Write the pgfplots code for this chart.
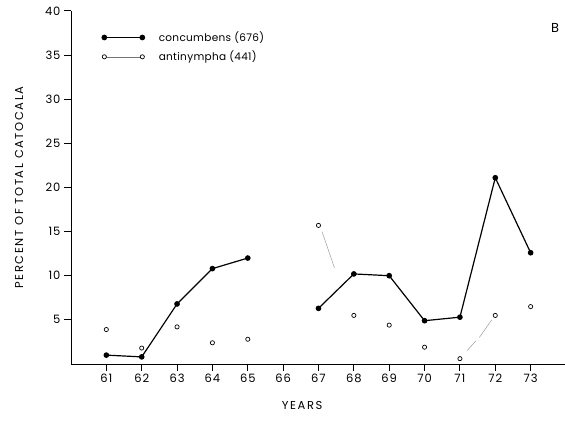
\documentclass[border=0pt]{standalone}
\usepackage{fontspec}
\setmainfont{Poppins}
\newfontfamily\spaced[LetterSpace=14]{Poppins}
\newfontfamily\legfont[LetterSpace=8]{Poppins}
\newfontfamily\keyfont[LetterSpace=3]{Poppins}
\usepackage{pgfplots}
\pgfplotsset{compat=1.18}

\begin{document}
\begin{tikzpicture}
\begin{axis}[
  scale only axis,
  width=495pt, height=353pt,
  xmin=60, xmax=74, ymin=0, ymax=40,
  axis lines=left,
  axis line style={line width=0.9pt, -},
  xtick={61,62,...,73}, ytick={5,10,...,40},
  major tick length=7pt,
  tick align=outside,
  major tick style={black, line width=0.9pt},
  /pgf/number format/assume math mode=true,
  /pgf/number format/set thousands separator={},
  tick label style={font=\fontsize{11.5}{13}\selectfont\legfont},
  xlabel={\spaced YEARS},
  ylabel={\spaced PERCENT OF TOTAL CATOCALA},
  label style={font=\fontsize{11.5}{13}\selectfont},
  xlabel style={at={(axis description cs:0.467,-0.119)}, anchor=center},
  ylabel style={at={(axis description cs:-0.105,0.50)}, anchor=center},
  clip=false,
  legend style={draw=none, fill=none, at={(0.062,0.947)}, anchor=north west,
    font=\fontsize{10.5}{13}\selectfont\keyfont, row sep=4pt, inner sep=0pt,
    nodes={inner sep=2pt},
    /tikz/every odd column/.append style={column sep=12pt}},
  legend cell align=left,
  legend image code/.code={\draw[#1] plot coordinates {(0pt,0pt) (38pt,0pt)};},
]
% tick marks, drawn explicitly
\pgfplotsinvokeforeach{61,62,...,73}{\draw[line width=0.9pt] (axis cs:#1,0) -- ++(0pt,-7pt);}
\pgfplotsinvokeforeach{5,10,...,40}{\draw[line width=0.9pt] (axis cs:60,#1) -- ++(-6pt,0pt);}
% concumbens, 1961-65 and 1967-73
\addplot[black, line width=1.2pt, mark=*, mark size=2.2pt] coordinates {
  (61,1.0) (62,0.8) (63,6.8) (64,10.8) (65,12.0)
};
\addlegendentry{concumbens (676)}
\addplot[black, line width=1.2pt, mark=*, mark size=2.2pt, forget plot] coordinates {
  (67,6.3) (68,10.2) (69,10.0) (70,4.9) (71,5.3) (72,21.1) (73,12.6)
};
% antinympha
\addplot[only marks, black, mark=o, mark size=2.1pt, mark options={line width=0.7pt},
  legend image code/.code={
    \draw[black!55, line width=0.4pt] (0pt,0pt) -- (38pt,0pt);
    \draw[black, line width=0.7pt, fill=white] (0pt,0pt) circle (2.1pt);
    \draw[black, line width=0.7pt, fill=white] (38pt,0pt) circle (2.1pt);}
] coordinates {
  (61,3.9) (62,1.8) (63,4.2) (64,2.4) (65,2.8)
  (67,15.7) (68,5.5) (69,4.4) (70,1.9) (71,0.6) (72,5.5) (73,6.5)
};
\addlegendentry{antinympha (441)}
% faint connecting segments that survive in the print
\addplot[black!45, line width=0.4pt, forget plot] coordinates {(67.1,15.0) (67.45,10.9)};
\addplot[black!45, line width=0.4pt, forget plot] coordinates {(71.2,1.5) (71.45,2.6)};
\addplot[black!45, line width=0.4pt, forget plot] coordinates {(71.55,3.0) (71.9,5.0)};
\node[font=\fontsize{13}{14}\selectfont] at (axis description cs:0.978,0.952) {B};
\coordinate (bl) at (rel axis cs:-0.1434,-0.1756);
\coordinate (tr) at (rel axis cs:0.998,1.031);
\end{axis}
\pgfresetboundingbox
\path (bl) rectangle (tr);
\end{tikzpicture}
\end{document}
